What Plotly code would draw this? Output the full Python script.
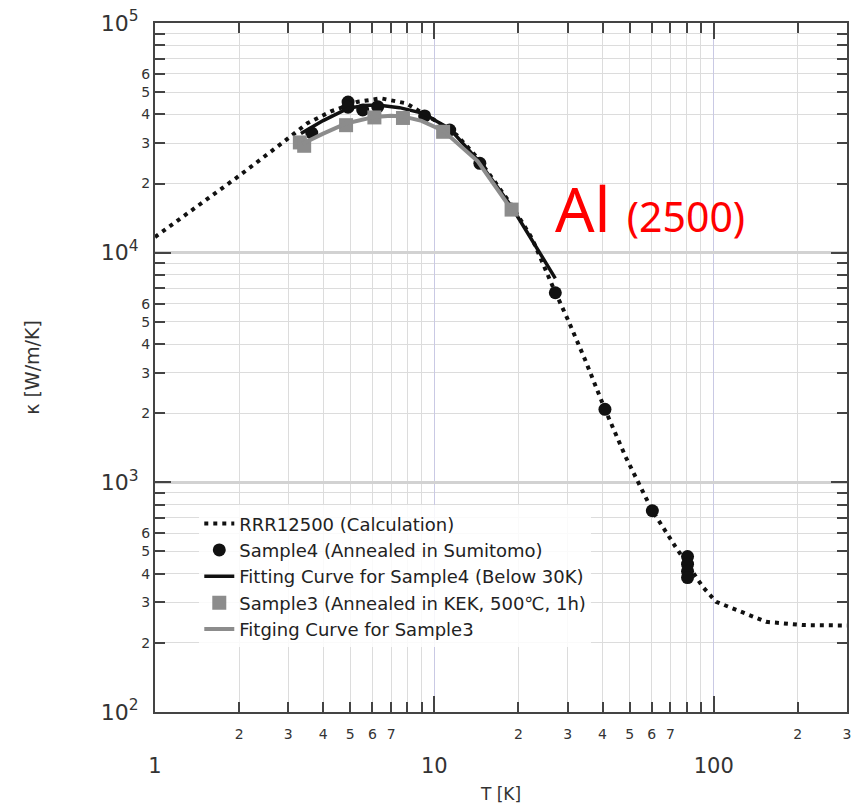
import math
import plotly.graph_objects as go

# ---------------- data ----------------
calc_T = [1.0, 1.5, 2.0, 2.89, 3.51, 4.26, 5.32, 6.44, 7.93, 8.5, 10.0, 12.0, 14.3,
          18.9, 22.4, 26.7, 30.1, 34.7, 40.8, 48.4, 60.3, 73.0, 91.3, 102, 120, 154, 209, 300]
calc_k = [11700, 16700, 21600, 30400, 36600, 41200, 45400, 47000, 44700, 42500, 37800, 32600, 25800,
          16100, 11500, 7000, 5090, 3400, 2080, 1290, 752, 524, 351, 302, 278, 247, 239, 238]

s4_T = [3.64, 4.91, 4.91, 5.54, 6.27, 9.23, 11.35, 14.55, 27.1, 40.8, 60.3, 80.6, 80.6, 80.6, 80.6]
s4_k = [33200, 45300, 43000, 41800, 43200, 39400, 34200, 24500, 6690, 2080, 752, 475, 440, 410, 385]

fit4_T = [3.33, 4.0, 4.9, 5.6, 6.27, 7.5, 9.2, 10.0, 11.35, 14.3, 18.9, 22.4, 27.1]
fit4_k = [33000, 37600, 42500, 43700, 43900, 42800, 40300, 37800, 34700, 25300, 15850, 11350, 7730]

s3_T = [3.3, 3.42, 4.83, 6.1, 7.72, 10.75, 18.9]
s3_k = [30200, 29200, 35900, 38800, 38600, 33600, 15400]

fit3_T = [3.37, 4.0, 4.83, 6.1, 7.0, 7.72, 9.0, 10.75, 14.3, 18.9]
fit3_k = [29800, 33000, 36500, 39000, 39500, 39200, 37500, 34000, 25000, 15400]

names = ["RRR12500 (Calculation)",
         "Sample4 (Annealed in Sumitomo)",
         "Fitting Curve for Sample4 (Below 30K)",
         "Sample3 (Annealed in KEK, 500\u2103, 1h)",
         "Fitging Curve for Sample3"]

x_minor_lab = [2, 3, 4, 5, 6, 7, 20, 30, 40, 50, 60, 70, 200, 300]
x_minor_txt = ["2", "3", "4", "5", "6", "7", "2", "3", "4", "5", "6", "7", "2", "3"]
x_minor_unl = [8, 9, 80, 90]
x_major = [1, 10, 100]
x_major_txt = ["1", "10", "100"]

y_minor_lab = [200, 300, 400, 500, 600, 2000, 3000, 4000, 5000, 6000, 20000, 30000, 40000, 50000, 60000]
y_minor_txt = ["2", "3", "4", "5", "6"] * 3
y_minor_unl = [700, 800, 900, 7000, 8000, 9000, 70000, 80000, 90000]
y_major = [100, 1000, 10000, 100000]
y_major_txt = ["10<sup>2</sup>", "10<sup>3</sup>", "10<sup>4</sup>", "10<sup>5</sup>"]

XR = [0, math.log10(300)]
YR = [2, 5]
FONT = "DejaVu Sans"
AX = "#444444"
GRID = "#dcdcdc"

fig = go.Figure()
fig.add_trace(go.Scatter(x=calc_T, y=calc_k, mode="lines", name=names[0],
                         line=dict(color="#111111", width=4, dash="4px,5px")))
fig.add_trace(go.Scatter(x=s4_T, y=s4_k, mode="markers", name=names[1],
                         marker=dict(color="#111111", size=13, symbol="circle")))
fig.add_trace(go.Scatter(x=fit4_T, y=fit4_k, mode="lines", name=names[2],
                         line=dict(color="#111111", width=3.5)))
fig.add_trace(go.Scatter(x=s3_T, y=s3_k, mode="markers", name=names[3],
                         marker=dict(color="#8c8c8c", size=14, symbol="square")))
fig.add_trace(go.Scatter(x=fit3_T, y=fit3_k, mode="lines", name=names[4],
                         line=dict(color="#8c8c8c", width=4)))
# carrier for the overlay axes (decade ticks / labels)
fig.add_trace(go.Scatter(x=[None], y=[None], xaxis="x2", yaxis="y2", showlegend=False,
                         hoverinfo="skip"))

common = dict(type="log", ticks="inside", showline=True, linecolor=AX, linewidth=2,
              mirror="ticks", tickcolor=AX, zeroline=False, automargin=False)

fig.update_layout(
    width=859, height=804,
    margin=dict(l=155, r=12, t=23, b=92),
    paper_bgcolor="white", plot_bgcolor="white",
    font=dict(family=FONT, color="#333333"),
    xaxis=dict(**common, range=XR, tickvals=x_minor_lab, ticktext=x_minor_txt,
               ticklen=10, tickwidth=1.5, tickfont=dict(size=14, color="#333333"),
               ticklabelstandoff=8,
               showgrid=True, gridcolor=GRID, gridwidth=1,
               minor=dict(tickvals=x_minor_unl, ticks="inside", ticklen=10, tickwidth=1.5,
                          tickcolor=AX, showgrid=True, gridcolor=GRID, gridwidth=1),
               title=dict(text="T [K]", font=dict(size=17, color="#333333"), standoff=50)),
    xaxis2=dict(**common, range=XR, overlaying="x", anchor="y2", side="bottom",
                tickvals=x_major, ticktext=x_major_txt, ticklen=16, tickwidth=2,
                tickfont=dict(size=21, color="#333333"), ticklabelstandoff=34,
                showgrid=True, gridcolor="#c9c9e4", gridwidth=1.3),
    yaxis=dict(**common, range=YR, tickvals=y_minor_lab, ticktext=y_minor_txt,
               ticklen=10, tickwidth=1.5, tickfont=dict(size=14, color="#333333"),
               showgrid=True, gridcolor=GRID, gridwidth=1,
               minor=dict(tickvals=y_minor_unl, ticks="inside", ticklen=10, tickwidth=1.5,
                          tickcolor=AX, showgrid=True, gridcolor=GRID, gridwidth=1),
               title=dict(text="\u03ba [W/m/K]", font=dict(size=19, color="#333333"), standoff=97)),
    yaxis2=dict(**common, range=YR, overlaying="y", anchor="x2", side="left",
                tickvals=y_major, ticktext=y_major_txt, ticklen=16, tickwidth=2,
                tickfont=dict(size=22, color="#333333"), ticklabelstandoff=10,
                showgrid=True, gridcolor="#d2d2d2", gridwidth=2.5),
    legend=dict(x=0.064, y=0.30, xanchor="left", yanchor="top",
                bgcolor="rgba(255,255,255,0.85)", borderwidth=0,
                font=dict(size=18, color="#222222"), tracegroupgap=0),
    showlegend=True,
)

fig.add_annotation(xref="paper", yref="paper", x=0.575, y=0.732, xanchor="left", yanchor="middle",
                   text="Al <span style='font-size:41px'>(2500)</span>", showarrow=False,
                   font=dict(family="Noto Sans", size=62, color="#ff0000"))

fig.write_html("out.html")
